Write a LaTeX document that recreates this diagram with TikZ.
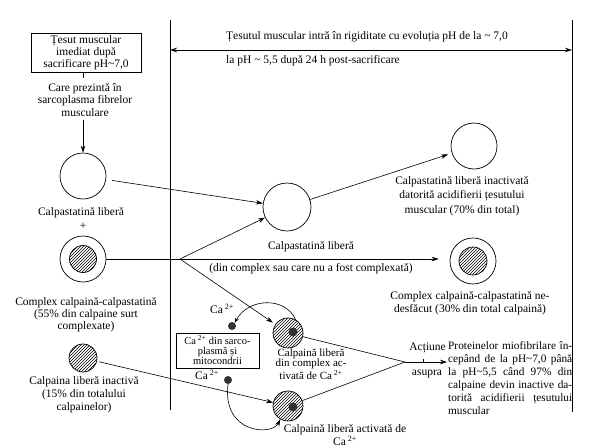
\documentclass[tikz,border=0pt]{standalone}
\usepackage{fontspec}
\setmainfont{Liberation Serif}
\usetikzlibrary{arrows.meta,patterns}
\begin{document}
\begin{tikzpicture}[x=1pt,y=-1pt,
  every node/.style={font=\fontsize{11.5}{12.5}\selectfont, inner sep=0pt},
  lbl/.style={align=center},
  arr/.style={-{Stealth[length=7pt,width=4.5pt]}},
  ln/.style={line width=0.6pt},
  ring/.style={circle,draw,line width=0.7pt,minimum size=46pt},
  hatc/.style={circle,draw,line width=0.7pt,pattern=north east lines,minimum size=28pt},
  dot/.style={circle,fill=black!80,minimum size=8pt}]
\useasboundingbox (0,0) rectangle (602,447);
% frame lines
\coordinate (tl) at (170,20); \coordinate (bl) at (170,410);
\coordinate (tr) at (572,20); \coordinate (br2) at (572,412);
\draw[ln] (tl) -- (bl);
\draw[ln] (tr) -- (br2);
\coordinate (hl) at (170,50); \coordinate (hr) at (572,50);
\draw[ln,{Stealth[length=7pt,width=4.5pt]}-{Stealth[length=7pt,width=4.5pt]}] (hl) -- (hr);
\node[anchor=west] (ttop) at (226,37) {Țesutul muscular intră în rigiditate cu evoluția pH de la \textasciitilde{} 7,0};
\node[anchor=west] (tbot) at (226,61) {la pH \textasciitilde{} 5,5 după 24 h post-sacrificare};
% left column
\node[draw,ln,lbl,minimum width=110pt,minimum height=39pt,font=\fontsize{11.5}{12}\selectfont] (box) at (86,52.5) {Țesut muscular\\imediat după\\sacrificare pH\textasciitilde7,0};
\node[lbl,font=\fontsize{11.5}{12.5}\selectfont] (care) at (85,100) {Care prezintă în\\sarcoplasma fibrelor\\musculare};
\draw[ln] (box.south -| 83,0) -- (83,78);
\node[ring] (c1) at (83,176) {};
\draw[ln,arr] (care.south -| c1) ++(0,3) -- (c1.north);
\node (c1l) at (81,213) {Calpastatină liberă};
\node (plus) at (83,226) {+};
\node[ring] (c2) at (83,259) {};
\node[hatc,minimum size=27pt] (c2i) at (83,259) {};
\node[lbl,font=\fontsize{11.5}{12}\selectfont] (c2l) at (86,315) {Complex calpaină-calpastatină\\(55\% din calpaine surt\\complexate)};
\node[hatc] (c3) at (83,358) {};
\node[lbl,font=\fontsize{11.5}{13}\selectfont] (c3l) at (84,395) {Calpaina liberă inactivă\\(15\% din totalului\\calpainelor)};
% middle
\node[ring,minimum size=48pt] (m) at (287,207) {};
\node (ml) at (311,247) {Calpastatină liberă};
\node (ml2) at (311,269) {(din complex sau care nu a fost complexată)};
\node[ring] (t) at (474,146) {};
\node[lbl,font=\fontsize{11.5}{14.5}\selectfont] (tl2) at (462,196) {Calpastatină liberă inactivată\\datorită acidifierii țesutului\\muscular (70\% din total)};
\node[ring] (rc) at (473,261) {};
\node[hatc] (rci) at (473,261) {};
\node[lbl,font=\fontsize{11.5}{12.5}\selectfont] (rcl) at (470,303) {Complex calpaină-calpastatină ne-\\desfăcut (30\% din total calpaină)};
\coordinate (br) at (180,259);
\draw[ln] (c2) -- (br);
\draw[ln,arr,shorten <=6pt] (c1) -- (m);
\draw[ln,arr,shorten >=4pt] (m) -- (t);
\draw[ln,arr] (br) -- (m);
\draw[ln,arr,shorten >=11pt] (br) -- (br -| rc.west);
% calpains
\node[hatc,minimum size=30pt] (a1) at (288,333) {};
\fill[black!80] ([xshift=5pt,yshift=1pt]a1.center) circle (4.5);
\node[hatc,minimum size=30pt] (a2) at (288,406) {};
\fill[black!80] ([xshift=5pt,yshift=-1pt]a2.center) circle (4.5);
\draw[ln,arr,shorten >=3pt] (br) -- (a1);
\draw[ln,arr,shorten <=2pt] (c3) -- (a2);
\node[lbl,font=\fontsize{11}{10.8}\selectfont] (a1l) at (311,364) {Calpaină liberă\\din complex ac-\\tivată de Ca\,\textsuperscript{2+}};
\node[lbl,font=\fontsize{11.5}{11.5}\selectfont] (a2l) at (345,435) {Calpaină liberă activată de\\Ca\,\textsuperscript{2+}};
% Ca2+ source
\node[draw,ln,lbl,minimum width=83pt,minimum height=35pt,font=\fontsize{10.5}{10}\selectfont] (cabox) at (217.5,350.5) {Ca\,\textsuperscript{2+} din sarco-\\plasmă și\\mitocondrii};
\node[dot] (d1) at (232,326) {};
\node[dot] (d2) at (228,380) {};
\node (ca1) at (222,309) {Ca\,\textsuperscript{2+}};
\node (ca2) at (207,375) {Ca\,\textsuperscript{2+}};
\draw[ln,-{Stealth[length=5pt,width=3.5pt]}] (a1.60) .. controls (285,296) and (248,298) .. (d1.50);
\draw[ln,arr] (d2.south) .. controls (222,434) and (272,436) .. (a2.240);
% action
\coordinate (cv) at (405,362);
\coordinate (pe) at (447,362);
\draw[ln] (a1) -- (cv);
\draw[ln] (a2) -- (cv);
\draw[ln,arr] (cv) -- (pe);
\draw[ln] (423,358.5) -- (423,362);
\node[anchor=east] (act) at (446,348) {Acțiune};
\node (asu) at (427,374) {asupra};
\node[anchor=north west,align=left,font=\fontsize{11.3}{13}\selectfont] (para) at (448,341)
 {\makebox[124pt][s]{Proteinelor miofibrilare în-}\\
  \makebox[124pt][s]{cepând de la pH\textasciitilde7,0 până}\\
  \makebox[124pt][s]{la pH\textasciitilde5,5 când 97\% din}\\
  \makebox[124pt][s]{calpaine devin inactive da-}\\
  \makebox[124pt][s]{torită acidifierii țesutului}\\
  muscular};
\end{tikzpicture}
\end{document}
